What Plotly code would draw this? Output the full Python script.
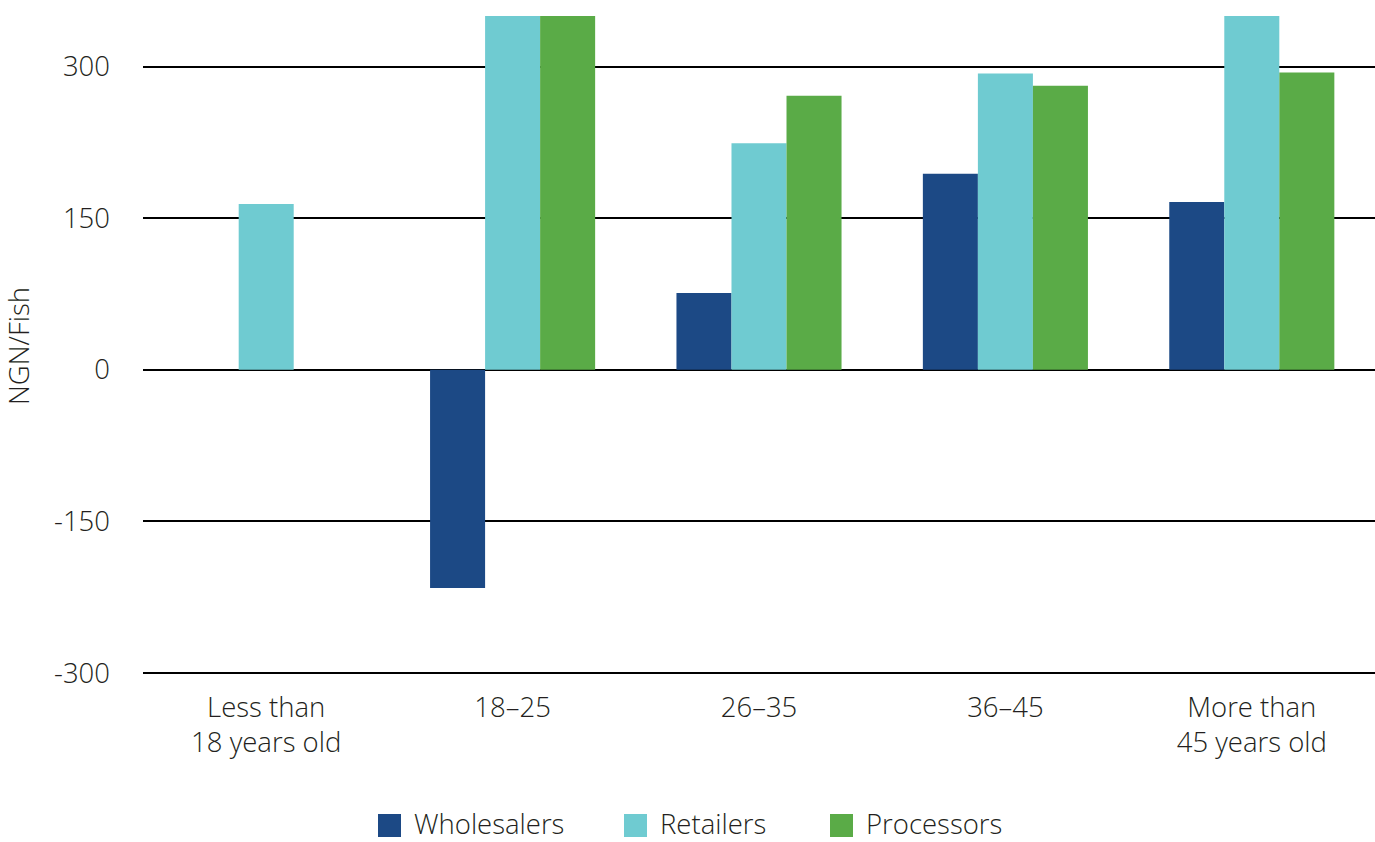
import plotly.graph_objects as go

categories = ["Less than<br>18 years old", "18–25", "26–35", "36–45", "More than<br>45 years old"]
wholesalers = [None, -216, 76, 194, 166]
retailers = [164, 355, 224, 293, 355]
processors = [None, 355, 271, 281, 294]
tick_vals = [-300, -150, 0, 150, 300]
tick_text = ["-300", "-150", "0", "150", "300"]
series_names = ["Wholesalers", "Retailers", "Processors"]
series_colors = ["#1c4985", "#6fcbd1", "#5aab47"]

font_family = "Open Sans, Noto Sans, sans-serif"
text_color = "#231f20"
FS = 27.5

W, H = 1375, 842
ML, MR, MT, MB = 143, 0, 16, 166
PW, PH = W - ML - MR, H - MT - MB


def px(x):
    return (x - ML) / PW


def py(y):
    return (H - MB - y) / PH


fig = go.Figure()
for name, vals, color in zip(series_names, [wholesalers, retailers, processors], series_colors):
    fig.add_trace(go.Bar(x=categories, y=vals, name=name, marker_color=color,
                         marker_line_width=0, showlegend=False))

# custom legend (larger swatches, as in the reference)
swatch_x = [378, 624, 830]
for name, color, sx in zip(series_names, series_colors, swatch_x):
    fig.add_shape(type="rect", xref="paper", yref="paper",
                  x0=px(sx), x1=px(sx + 23), y0=py(837), y1=py(814),
                  fillcolor=color, line_width=0)
    fig.add_annotation(xref="paper", yref="paper", x=px(sx + 35), y=py(823),
                       text=name, showarrow=False, xanchor="left", yanchor="middle",
                       borderpad=0,
                       font=dict(size=FS, color=text_color, family=font_family, weight=300))

fig.update_layout(
    width=W, height=H,
    margin=dict(l=ML, r=MR, t=MT, b=MB),
    paper_bgcolor="white", plot_bgcolor="white",
    barmode="group", bargap=0.33, bargroupgap=0,
    font=dict(family=font_family, size=FS, color=text_color, weight=300),
    showlegend=False,
)
fig.update_yaxes(range=[-303, 350], tickvals=tick_vals, ticktext=tick_text,
                 showgrid=True, gridcolor="#000000", gridwidth=1.5,
                 zeroline=True, zerolinecolor="#000000", zerolinewidth=1.5,
                 showline=False, ticks="", ticklabelstandoff=32, automargin=False,
                 title=dict(text="NGN/Fish", standoff=18, font=dict(size=FS)),
                 tickfont=dict(size=FS))
fig.update_xaxes(showgrid=False, showline=False, ticks="", tickfont=dict(size=FS),
                 ticklabelstandoff=12, automargin=False)

fig.write_html("out.html")
